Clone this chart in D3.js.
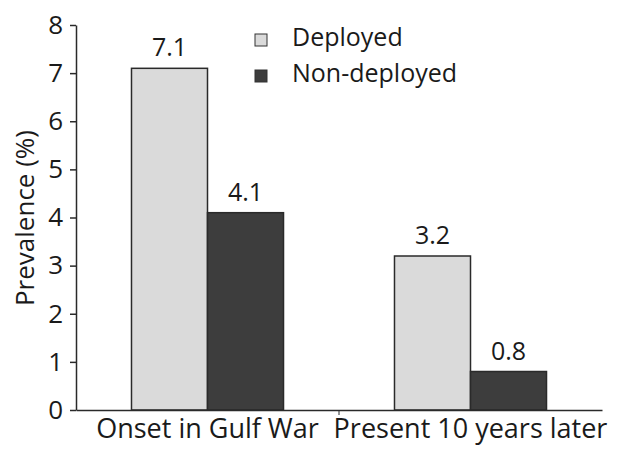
<!DOCTYPE html>
<html>
<head>
<meta charset="utf-8">
<script src="https://cdn.jsdelivr.net/npm/d3@7"></script>
<style>
  body { margin: 0; background: #fff; }
  text { font-family: "Open Sans", Lato, sans-serif; fill: #1a1a1a; }
</style>
</head>
<body>
<div class="chart"></div>
<script>
var categories = ["Onset in Gulf War", "Present 10 years later"];
var seriesNames = ["Deployed", "Non-deployed"];
var deployed = [7.1, 3.2];
var nonDeployed = [4.1, 0.8];
var yTicks = [0, 1, 2, 3, 4, 5, 6, 7, 8];

var colors = { "Deployed": "#dadada", "Non-deployed": "#3d3d3d" };

var width = 619, height = 450;
var plotLeft = 76, plotRight = 602, plotTop = 25, plotBottom = 410;
var fontFam = "'Open Sans', Lato, sans-serif";

var svg = d3.select(".chart")
            .append("svg")
            .attr("width", width)
            .attr("height", height);

var rows = categories.map(function(c, i) {
    return { cat: c, values: [
        { name: seriesNames[0], value: deployed[i] },
        { name: seriesNames[1], value: nonDeployed[i] }
    ] };
});

var x0 = d3.scaleBand().domain(categories).range([plotLeft, plotRight]);
var x1 = d3.scaleBand().domain(seriesNames)
           .range([0, x0.bandwidth()])
           .paddingOuter(0.73);
var y = d3.scaleLinear().domain([0, 8]).range([plotBottom, plotTop]);

// bars
var groups = svg.selectAll("g.group")
                .data(rows)
                .enter().append("g")
                .attr("class", "group")
                .attr("transform", function(d) {
                    return "translate(" + x0(d.cat) + ",0)";
                });

groups.selectAll("rect")
    .data(function(d) { return d.values; })
    .enter().append("rect")
    .attr("x", function(d) { return x1(d.name); })
    .attr("y", function(d) { return y(d.value); })
    .attr("width", x1.bandwidth())
    .attr("height", function(d) { return y(0) - y(d.value); })
    .attr("fill", function(d) { return colors[d.name]; })
    .attr("stroke", "#2a2a2a")
    .attr("stroke-width", 1.5);

groups.selectAll("text.val")
    .data(function(d) { return d.values; })
    .enter().append("text")
    .attr("class", "val")
    .attr("x", function(d) { return x1(d.name) + x1.bandwidth() / 2; })
    .attr("y", function(d) { return y(d.value) - 12; })
    .attr("text-anchor", "middle")
    .style("font-size", "25px")
    .text(function(d) { return d.value.toFixed(1); });

// y axis
var yAxis = svg.append("g")
    .attr("transform", "translate(" + plotLeft + ",0)")
    .call(d3.axisLeft(y).tickValues(yTicks).tickSize(6).tickPadding(7).tickSizeOuter(0));
yAxis.selectAll("text").style("font-size", "26px").style("font-family", fontFam);

// x axis
var xAxis = svg.append("g")
    .attr("transform", "translate(0," + plotBottom + ")")
    .call(d3.axisBottom(x0).tickSize(0).tickPadding(9).tickSizeOuter(0));
xAxis.selectAll("text").style("font-size", "27px").style("font-family", fontFam);
xAxis.append("line")
    .attr("x1", x0(categories[1]))
    .attr("x2", x0(categories[1]))
    .attr("y1", 0)
    .attr("y2", 5)
    .attr("stroke", "#2a2a2a");

svg.selectAll(".domain, .tick line")
    .attr("stroke", "#2a2a2a")
    .attr("stroke-width", 1.5);
svg.selectAll(".tick text").attr("fill", "#1a1a1a");

// y title
svg.append("text")
    .attr("transform", "translate(34,218) rotate(-90)")
    .attr("text-anchor", "middle")
    .style("font-size", "26px")
    .text("Prevalence (%)");

// legend
var legend = svg.selectAll("g.legend")
    .data(seriesNames)
    .enter().append("g")
    .attr("class", "legend")
    .attr("transform", function(d, i) {
        return "translate(255," + (34 + i * 36) + ")";
    });

legend.append("rect")
    .attr("width", 12)
    .attr("height", 12)
    .attr("fill", function(d) { return colors[d]; })
    .attr("stroke", "#333")
    .attr("stroke-width", 1);

legend.append("text")
    .attr("x", 37)
    .attr("y", 12)
    .style("font-size", "25px")
    .text(function(d) { return d; });
</script>
</body>
</html>
